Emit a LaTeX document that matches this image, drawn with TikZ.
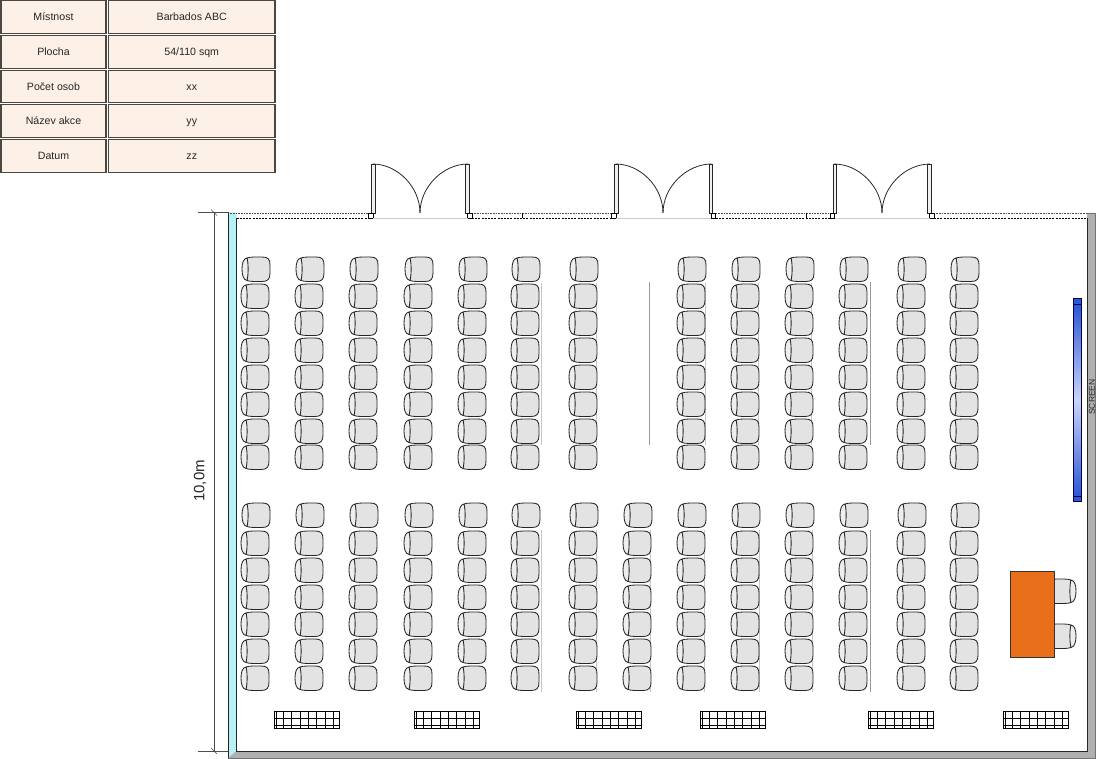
\documentclass[tikz,border=0pt]{standalone}
\usepackage{fontspec}
\setmainfont{Liberation Sans}
\definecolor{cellfill}{HTML}{FDF0E6}
\definecolor{cellline}{HTML}{4A4642}
\definecolor{seatgray}{HTML}{E3E3E3}
\definecolor{seatback}{HTML}{EEEEEE}
\definecolor{glasswall}{HTML}{B5F1F6}
\definecolor{solidwall}{HTML}{B0B0B0}
\definecolor{deskfill}{HTML}{E96F1A}
\definecolor{screenblue}{HTML}{2C57D6}
\tikzset{
	cellbox/.style={draw=cellline, line width=1.2pt, fill=cellfill, font=\fontsize{10.6}{12}\selectfont, text=black!85, inner sep=0pt, minimum height=32.5, text height=9, text depth=1},
	seatedge/.style={draw=black!85, line width=0.85pt, line join=round},
	wallhi/.style={draw=black!70, line width=0.8pt, dash pattern=on 1pt off 0.6pt},
	walllo/.style={draw=black, line width=0.8pt, dash pattern=on 2pt off 1.2pt},
	wallline/.style={draw=black!85, line width=0.9pt},
	leaf/.style={draw=black!85, line width=0.9pt, fill=black!6},
	swing/.style={draw=black!85, line width=0.8pt},
	aisle/.style={draw=black!22, line width=0.6pt},
	aisledark/.style={draw=black!40, line width=0.6pt}
}
\def\seatat[#1](#2,#3){
	\begin{scope}[shift={(#2,#3)},#1]
		\draw[seatedge, fill=seatgray] (5,1) .. controls (8,-0.2) and (14,0) .. (20,0) .. controls (26,0) and (28,2) .. (28,8) -- (28,16) .. controls (28,22) and (26,24.5) .. (20,24.5) .. controls (14,24.5) and (8,24.7) .. (5,23.5) -- cycle;
		\draw[seatedge, fill=seatback] (5,1) .. controls (1.5,1.5) and (0,6) .. (0,12) .. controls (0,18) and (1.5,23) .. (5,23.5) .. controls (6.5,18) and (6.5,6) .. (5,1) -- cycle;
	\end{scope}
}
\def\doorat(#1,#2,#3){
	\draw[leaf] (#1,164) rectangle (#1+3.5,213);
	\draw[leaf] (#3-3.5,164) rectangle (#3,213);
	\draw[swing] (#1+1,164) .. controls (#1+26,164) and (#2,187) .. (#2,213);
	\draw[swing] (#3-1,164) .. controls (#3-26,164) and (#2,187) .. (#2,213);
	\draw[draw=black, line width=0.8pt, fill=white] (#1-3,213) rectangle (#1+1.5,218);
	\draw[draw=black, line width=0.8pt, fill=white] (#3-1.5,213) rectangle (#3+3,218);
	\draw[draw=black!20, line width=0.6pt] (#1+1.5,218) -- (#3-1.5,218);
}
\def\radiatorat(#1){
	\draw[line width=0.7pt, fill=white] (#1,711) rectangle (#1+65,728);
	\foreach \gridx in {2,9,17,26,34,42,51,59,65}
		\draw[line width=0.7pt] (#1+\gridx,711) -- (#1+\gridx,728);
	\foreach \gridy in {718,725}
		\draw[line width=0.7pt] (#1,\gridy) -- (#1+65,\gridy);
}

\begin{document}
\begin{tikzpicture}[x=1pt, y=-1pt]
	\useasboundingbox (0,0) rectangle (1098,759);
	%%%%% TABLE %%%%%
	\foreach \rowid/\rowy/\rowname/\rowval in {room/17/Místnost/Barbados ABC, area/52/Plocha/54\slash 110 sqm, people/86.5/Počet osob/xx, event/121/Název akce/yy, date/156/Datum/zz} {
		\node[cellbox, minimum width=105] (name\rowid) at (53.5,\rowy) {\rowname};
		\node[cellbox, minimum width=166.5] (value\rowid) at (191.75,\rowy) {\rowval};
	}

	%%%%% WALLS %%%%%
	\fill[glasswall] (228,212.5) -- (236.5,212.5) -- (236.5,751) -- (228,758) -- cycle;
	\fill[solidwall] (228,758) -- (236.5,751) -- (1087,751) -- (1087,213) -- (1095,213) -- (1095,758) -- cycle;
	\draw[wallline] (228,212.5) -- (228,758);
	\draw[wallline] (236.5,218) -- (236.5,751) -- (1087,751) -- (1087,218);
	\draw[draw=black!55, line width=0.9pt] (228,758) -- (1095,758) -- (1095,213) -- (1087,213);

	\foreach \wallfrom/\wallto in {228/368, 472/612, 716/830, 934/1087} {
		\draw[wallhi] (\wallfrom,213) -- (\wallto,213);
	}
	\foreach \wallfrom/\wallto in {236.5/368, 472/612, 716/830, 934/1087} {
		\draw[walllo] (\wallfrom,218) -- (\wallto,218);
	}
	\draw[line width=0.6pt] (522,213) -- (522,218);
	\draw[line width=0.6pt] (806,213) -- (806,218);

	%%%%% DOORS %%%%%
	\doorat(371.5,420,469)
	\doorat(614.5,663,712.5)
	\doorat(833,882,931)

	%%%%% DIMENSION %%%%%
	\draw[draw=black!70, line width=0.8pt] (214,212.5) -- (214,751);
	\draw[draw=black!70, line width=0.8pt] (198,212.5) -- (228,212.5);
	\draw[draw=black!70, line width=0.8pt] (198,751) -- (228,751);
	\draw[draw=black!70, line width=0.6pt] (211,209.5) -- (217,215.5);
	\draw[draw=black!70, line width=0.6pt] (211,748) -- (217,754);
	\node[rotate=90, font=\fontsize{15}{17}\selectfont, text=black!85, inner sep=0pt] (dimlabel) at (200,481) {10,0m};

	%%%%% AISLE LINES %%%%%
	\foreach \aislex in {541,596,705,758,811} {
		\draw[aisle] (\aislex,283) -- (\aislex,445);
	}
	\foreach \aislex in {541,596,650,704,759,812} {
		\draw[aisle] (\aislex,530) -- (\aislex,692);
	}
	\draw[aisledark] (649,282) -- (649,445);
	\draw[aisledark] (870,282) -- (870,445);
	\draw[aisledark] (870,530) -- (870,692);

	%%%%% SEATS %%%%%
	\foreach \colx in {241,295,349,404,458,511,569,677,731,785,839,897,950} {
		\seatat[](\colx+1,257)
		\foreach \rowy in {284,311,338,365,392,419,445} {
			\seatat[](\colx,\rowy)
		}
	}
	\foreach \colx in {241,295,349,404,458,511,569,623,677,731,785,839,897,950} {
		\seatat[](\colx+1,503)
		\foreach \rowy in {531,558,585,612,639,666} {
			\seatat[](\colx,\rowy)
		}
	}

	%%%%% RADIATORS %%%%%
	\foreach \radx in {274.5,414.5,576.5,700.5,868.5,1003.5} {
		\radiatorat(\radx)
	}

	%%%%% SCREEN %%%%%
	\draw[draw=black!70!blue, line width=0.8pt, top color=screenblue, bottom color=screenblue, middle color=screenblue!25] (1073,304) rectangle (1081,496);
	\draw[draw=black!70!blue, line width=0.8pt, fill=screenblue] (1073,298) rectangle (1081,304);
	\draw[draw=black!70!blue, line width=0.8pt, fill=screenblue] (1073,496) rectangle (1081,501.5);
	\node[rotate=90, font=\fontsize{8.5}{10}\selectfont, text=black!85, inner sep=0pt] (screenlabel) at (1092,397) {SCREEN};

	%%%%% DESK %%%%%
	\seatat[xscale=-1](1076,579)
	\seatat[xscale=-1](1076,624)
	\draw[draw=black!80, line width=0.8pt, fill=deskfill] (1010.5,571) rectangle (1054,657);
\end{tikzpicture}
\end{document}
